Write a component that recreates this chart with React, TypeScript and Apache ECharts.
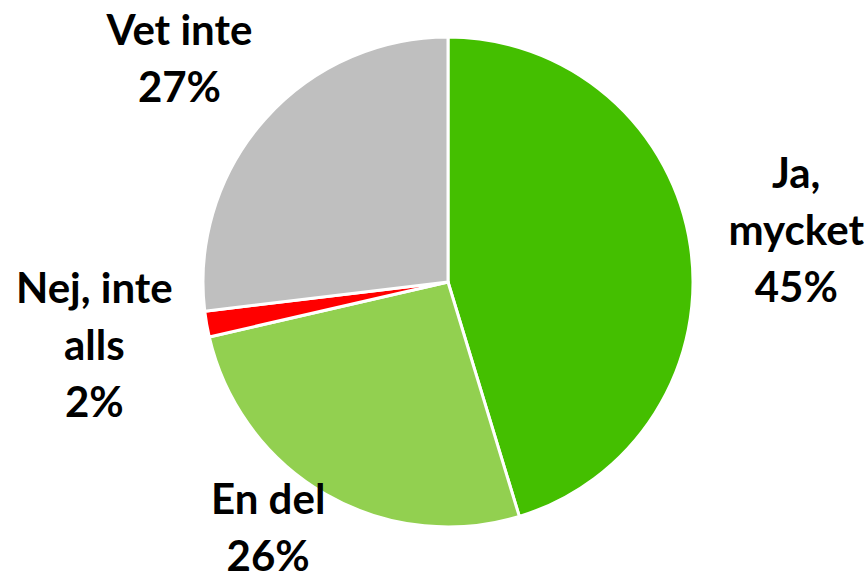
import React, { useEffect, useRef } from "react";
import * as echarts from "echarts";

const categories = ["Ja,\nmycket", "En del", "Nej, inte\nalls", "Vet inte"];
const values = [45.3, 26.1, 1.7, 26.9];
const colors = ["#44BF00", "#92D050", "#FF0000", "#BFBFBF"];

const CX = 448;
const CY = 282;
const R = 245;
const LABEL_R = 359;

export default function App() {
  const ref = useRef<HTMLDivElement>(null);
  useEffect(() => {
    if (!ref.current) return;
    const chart = echarts.init(ref.current, null, { renderer: "svg" });
    const total = values.reduce((a, b) => a + b, 0);
    const cum: number[] = [];
    let acc = 0;
    values.forEach((v) => {
      cum.push(acc + v / 2);
      acc += v;
    });
    chart.setOption({
      animation: false,
      backgroundColor: "#ffffff",
      series: [
        {
          type: "pie",
          center: [CX, CY],
          radius: R,
          startAngle: 90,
          clockwise: true,
          avoidLabelOverlap: false,
          data: categories.map((c, i) => ({
            name: c,
            value: values[i],
            itemStyle: { color: colors[i] },
          })),
          itemStyle: { borderColor: "#ffffff", borderWidth: 3 },
          label: {
            show: true,
            position: "outside",
            formatter: (p: any) => `${p.name}\n${Math.round(p.percent)}%`,
            fontFamily: "Lato",
            fontWeight: "bold",
            fontSize: 42,
            lineHeight: 57,
            color: "#000000",
            align: "center",
            overflow: "none",
            edgeDistance: 0,
            bleedMargin: 0,
          },
          labelLine: { show: false },
          labelLayout: (p: any) => {
            const W = chart.getWidth();
            const H = chart.getHeight();
            const theta = (cum[p.dataIndex] / total) * Math.PI * 2;
            const w = p.labelRect.width;
            const h = p.labelRect.height;
            let x = CX + LABEL_R * Math.sin(theta);
            let y = CY - LABEL_R * Math.cos(theta);
            x = Math.min(Math.max(x, w / 2), W - w / 2);
            y = Math.min(Math.max(y, h / 2), H - h / 2);
            return { x, y, align: "center", verticalAlign: "middle" };
          },
        },
      ],
    });
    return () => chart.dispose();
  }, []);
  return (
    <div
      ref={ref}
      style={{ position: "absolute", left: 0, top: 0, width: 864, height: 583 }}
    />
  );
}
